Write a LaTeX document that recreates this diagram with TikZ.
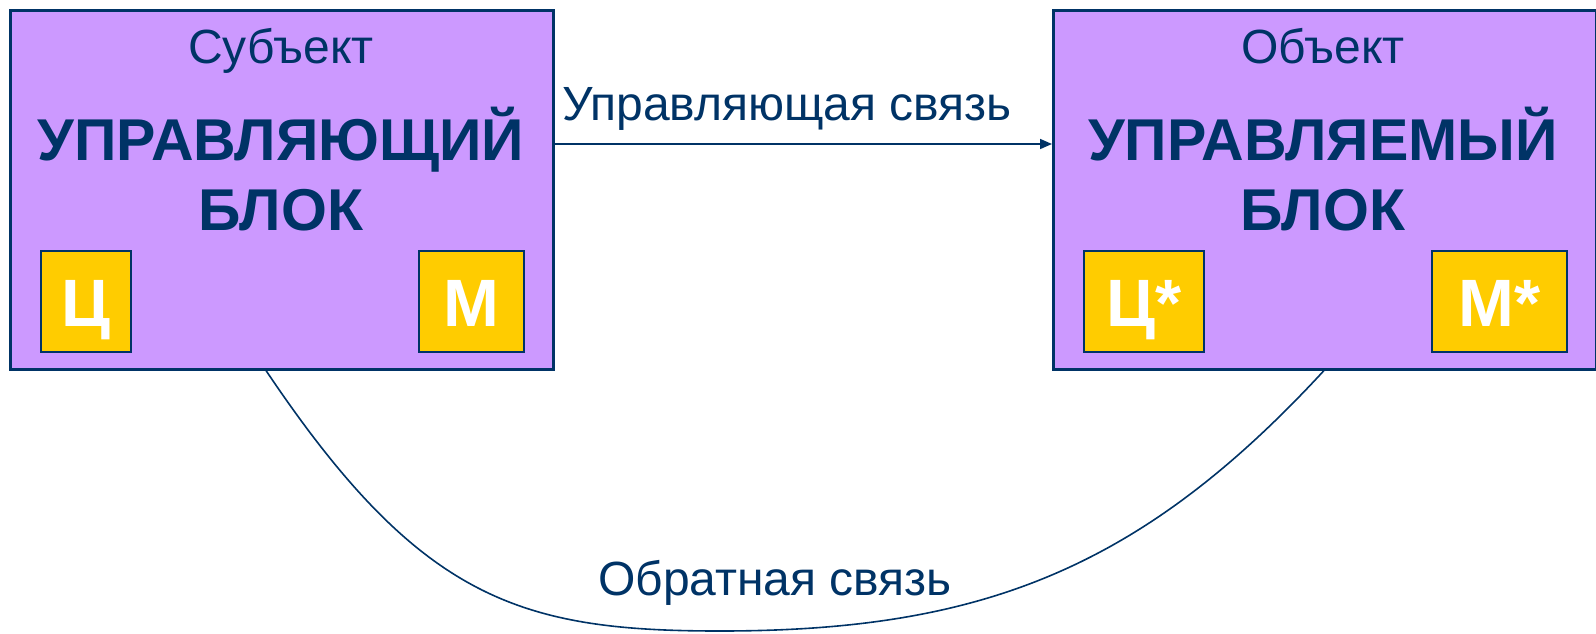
\documentclass[tikz,border=0pt]{standalone}
\usepackage{fontspec}
\setmainfont{Liberation Sans}
\usetikzlibrary{arrows.meta}
\definecolor{navy}{HTML}{003366}
\definecolor{lilac}{HTML}{CC99FF}
\definecolor{gold}{HTML}{FFCC00}
\tikzset{
  block/.style={draw=navy, line width=2.5pt, fill=lilac, anchor=north west, inner sep=0pt},
  tag/.style={draw=navy, line width=2pt, fill=gold, anchor=north west, inner sep=0pt},
  caption/.style={text=navy, anchor=base, inner sep=0pt, font=\fontsize{48}{56}\selectfont},
  title/.style={text=navy, anchor=base, inner sep=0pt, font=\fontsize{59}{67}\selectfont\bfseries},
  tagtext/.style={text=white, anchor=base, inner sep=0pt, font=\fontsize{67}{75}\selectfont\bfseries},
  link/.style={draw=navy, line width=1.6pt},
}
\begin{document}
\begin{tikzpicture}[x=1pt,y=-1pt]
\useasboundingbox (0,0) rectangle (1596,633);

% controlling block
\node[block, minimum width=543pt, minimum height=359pt] (sub) at (9,9) {};
\node[caption] (subname) at (281,63) {Субъект};
\node[title] (subt1) at (281,160) {УПРАВЛЯЮЩИЙ};
\node[title] (subt2) at (281,230) {БЛОК};
\node[tag, minimum width=90pt, minimum height=101pt] (c1) at (40,250) {};
\node[tag, minimum width=105pt, minimum height=101pt] (m1) at (418,250) {};
\node[tagtext] at ([yshift=-25pt]c1.center) {Ц};
\node[tagtext] at ([yshift=-25pt]m1.center) {М};

% controlled block
\node[block, minimum width=543pt, minimum height=359pt] (obj) at (1052,9) {};
\node[caption] (objname) at (1323,63) {Объект};
\node[title] (objt1) at (1323,160) {УПРАВЛЯЕМЫЙ};
\node[title] (objt2) at (1323,230) {БЛОК};
\node[tag, minimum width=120pt, minimum height=101pt] (c2) at (1083,250) {};
\node[tag, minimum width=135pt, minimum height=101pt] (m2) at (1431,250) {};
\node[tagtext] at ([yshift=-25pt]c2.center) {Ц*};
\node[tagtext] at ([yshift=-25pt]m2.center) {М*};

% forward link
\draw[link, -{Triangle[length=12pt,width=10pt]}] (sub.east |- 0,144) -- (obj.west |- 0,144);
\node[caption] (fwd) at (787,120) {Управляющая связь};

% feedback link
\coordinate (fbA) at (sub.south -| 266,0);
\coordinate (fbB) at (obj.south -| 1324,0);
\coordinate (fbLow) at (720,631);
\draw[link] (fbA) .. controls (420,600) and (520,631) .. (fbLow)
  .. controls (980,631) and (1140,570) .. (fbB);
\node[caption] (back) at (775,595) {Обратная связь};
\end{tikzpicture}
\end{document}
